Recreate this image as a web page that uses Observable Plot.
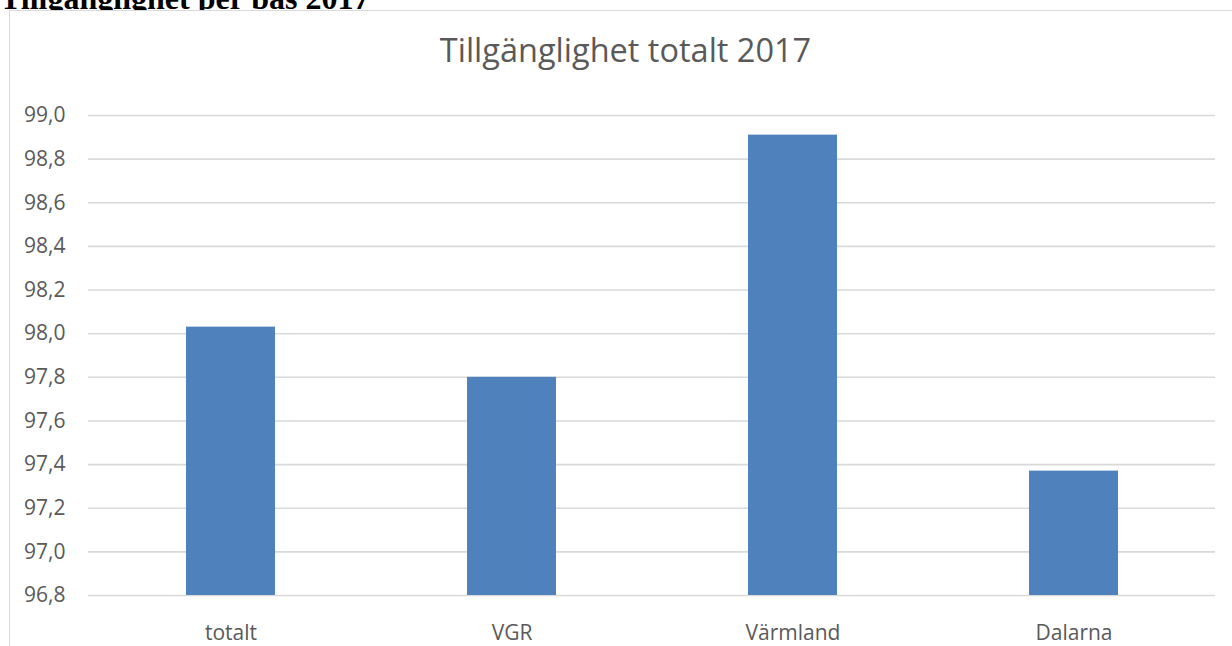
<!DOCTYPE html>
<html>
<head>
<meta charset="utf-8">
<script src="https://cdn.jsdelivr.net/npm/d3@7"></script>
<script src="https://cdn.jsdelivr.net/npm/@observablehq/plot@0.6"></script>
<style>
  html, body { margin: 0; padding: 0; background: #fff; width: 1232px; height: 646px; overflow: hidden; }
  #head { position: absolute; left: 0; top: -18px; font: bold 32px/1 "Liberation Serif", serif; color: #000; white-space: nowrap; }
  #box { position: absolute; left: 9px; top: 10px; width: 1231px; height: 700px; border: 1.5px solid #d9d9d9; box-sizing: border-box; background: #fff; }
  #title { position: absolute; left: 10px; width: 1231px; top: 27px; text-align: center; font: 32.5px/1.4 "Open Sans", sans-serif; color: #595959; white-space: nowrap; }
  #chart { position: absolute; left: 10px; top: 80px; }
</style>
</head>
<body>
<div id="head">Tillgänglighet per bas 2017</div>
<div id="box"></div>
<div id="title">Tillgänglighet totalt 2017</div>
<div id="chart"></div>
<script>
const categories = ["totalt", "VGR", "Värmland", "Dalarna"];
const values = [98.03, 97.80, 98.91, 97.37];
const yTicks = [96.8, 97.0, 97.2, 97.4, 97.6, 97.8, 98.0, 98.2, 98.4, 98.6, 98.8, 99.0];

const data = categories.map((c, i) => ({category: c, value: values[i]}));
const fmt = v => v.toFixed(1).replace(".", ",");

const chart = Plot.plot({
  width: 1222,
  height: 566,
  marginLeft: 78,
  marginRight: 17,
  marginTop: 35,
  marginBottom: 51,
  style: {fontFamily: "'Open Sans', sans-serif", fontSize: "21px", color: "#595959", background: "transparent"},
  x: {domain: categories, paddingInner: 0.684, paddingOuter: 0.342, label: null},
  y: {domain: [96.8, 99.0], label: null},
  marks: [
    Plot.ruleY(yTicks, {stroke: "#d9d9d9", strokeWidth: 1.6}),
    Plot.rectY(data, {x: "category", y1: 96.8, y2: "value", fill: "#4f81bd"}),
    Plot.axisY({ticks: yTicks, tickFormat: fmt, tickSize: 0, tickPadding: 23, label: null, fill: "#595959"}),
    Plot.axisX({tickSize: 0, tickPadding: 30, label: null, fill: "#595959"})
  ]
});
document.getElementById("chart").appendChild(chart);
</script>
</body>
</html>
